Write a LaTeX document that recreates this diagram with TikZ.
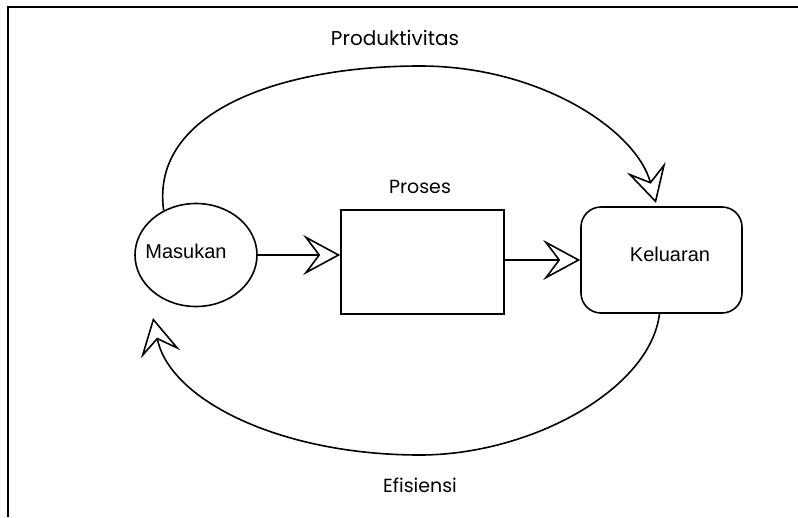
\documentclass[tikz,border=0pt]{standalone}
\usepackage{fontspec}
\setmainfont{Liberation Sans}
\newfontfamily\labelfont{Poppins}
\usetikzlibrary{arrows.meta,shapes.geometric}
\begin{document}
\begin{tikzpicture}[x=1pt,y=-1pt,
  line width=1.6pt,
  chev/.style={-{Stealth[open,length=37pt,width=40pt,inset=15pt,line width=1.6pt]}},
  nodetext/.style={font=\fontsize{20}{24}\selectfont},
  labeltext/.style={font=\labelfont\fontsize{19}{22}\selectfont}]
\useasboundingbox (0,0) rectangle (798,517);
% frame (top and left edges)
\draw[line width=1.8pt] (798,7) -- (8,7) -- (8,517);
% nodes
\node[draw,ellipse,minimum width=122pt,minimum height=103pt,inner sep=0pt] (ma) at (196,255) {};
\node[nodetext] (matext) at (186,251) {Masukan};
\node[draw,rectangle,minimum width=163pt,minimum height=104pt,inner sep=0pt] (pr) at (422.5,262) {};
\node[draw,rectangle,rounded corners=20pt,minimum width=161pt,minimum height=106pt,inner sep=0pt] (ke) at (661.5,260) {};
\node[nodetext] (ketext) at (670,254) {Keluaran};
\node[labeltext,font=\labelfont\fontsize{20}{23}\selectfont] (lprod) at (395,38) {Produktivitas};
\node[labeltext] (lpros) at (420,187) {Proses};
\node[labeltext] (lefi) at (420,485) {Efisiensi};
% straight arrows
\draw[chev] (ma.east) -- (ma.east -| pr.west);
\draw[chev] (pr.east |- ke.west) -- (ke.west);
% productivity arc
\coordinate (ptop) at (420,66);
\draw (ma.126) .. controls (150,112) and (280,66) .. (ptop);
\draw[chev] (ptop) .. controls (540,66) and (636,130) .. (656,203);
% efficiency arc
\coordinate (ebot) at (420,455);
\coordinate (etip) at (153,318);
\path (ke.south) ++(-2,0) coordinate (kb);
\draw (kb) .. controls (650,390) and (530,455) .. (ebot);
\draw[chev] (ebot) .. controls (280,455) and (170,400) .. (etip);
\end{tikzpicture}
\end{document}
